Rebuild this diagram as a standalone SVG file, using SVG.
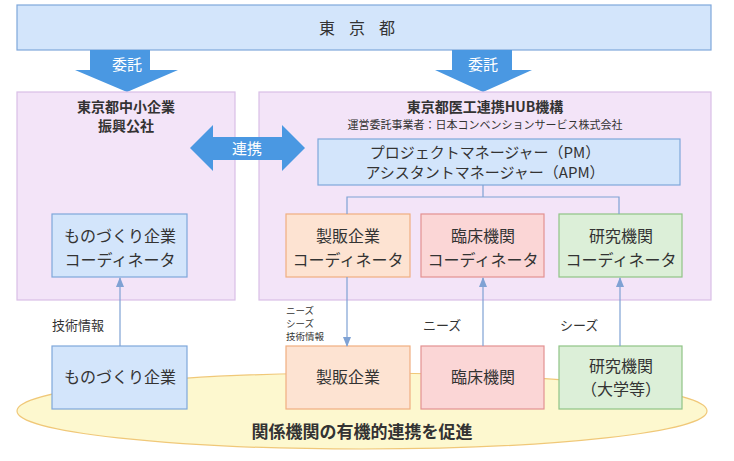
<svg xmlns="http://www.w3.org/2000/svg" width="734" height="461" viewBox="0 0 734 461">
<style>
text{font-family:"Noto Sans CJK JP","Noto Sans",sans-serif;fill:#333;text-anchor:middle}
text.st{text-anchor:start}
.b{fill:#d3e5fb;stroke:#7fa7db;stroke-width:1.2}
.p{fill:#f3e4f8;stroke:#d9bfe6;stroke-width:1.2}
.o{fill:#fde3d2;stroke:#f0ae80;stroke-width:1.2}
.r{fill:#fbd6d6;stroke:#e39191;stroke-width:1.2}
.g{fill:#dcefd8;stroke:#8fc486;stroke-width:1.2}
.l{stroke:#7fa2d4;stroke-width:1.2;fill:none}
.m{font-size:16px}
.w{fill:#fff;font-size:15px}
.big{fill:#4a98e2}
</style>
<defs><marker id="ah" markerWidth="10" markerHeight="8" refX="9" refY="4" orient="auto" markerUnits="userSpaceOnUse"><path d="M0,0L10,4L0,8z" fill="#7fa2d4"/></marker></defs>
<g id="ellipse"><ellipse cx="362" cy="411" rx="345" ry="38" fill="#fdf8cf" stroke="#f0c878" stroke-width="1.2"/><text x="362" y="438" font-size="17" font-weight="bold">関係機関の有機的連携を促進</text></g>
<g id="tokyo"><rect class="b" x="17" y="5" width="694" height="45"/><text x="364" y="34" class="m" letter-spacing="14">東京都</text></g>
<g id="itaku1"><path class="big" d="M90,50H150V70H178L127,92L75,70H90Z"/><text class="w" x="127" y="70">委託</text></g>
<g id="itaku2"><path class="big" d="M452,50H512V70H532L483,92L435,70H452Z"/><text class="w" x="483" y="70">委託</text></g>
<g id="kosha"><rect class="p" x="17" y="92" width="218" height="208"/><text x="126" y="112" font-size="14" font-weight="bold">東京都中小企業</text><text x="126" y="131" font-size="14" font-weight="bold">振興公社</text></g>
<g id="hub"><rect class="p" x="259" y="92" width="452" height="208"/><text x="485" y="112" font-size="14" font-weight="bold">東京都医工連携HUB機構</text><text x="485" y="129" font-size="11">運営委託事業者：日本コンベンションサービス株式会社</text></g>
<g id="renkei"><path class="big" d="M190,148L213,125V137H282V125L305,148L282,171V160H213V171Z"/><text class="w" x="247" y="154">連携</text></g>
<g id="pm"><rect class="b" x="318" y="139" width="362" height="46"/><text x="485" y="158" font-size="15">プロジェクトマネージャー（PM）</text><text x="485" y="178" font-size="15">アシスタントマネージャー（APM）</text></g>
<g id="c1"><rect class="b" x="52" y="214" width="135" height="63"/><text x="120" y="242" class="m">ものづくり企業</text><text x="120" y="266" class="m">コーディネータ</text></g>
<g id="c2"><rect class="o" x="286" y="214" width="124" height="63"/><text x="348" y="242" class="m">製販企業</text><text x="348" y="266" class="m">コーディネータ</text></g>
<g id="c3"><rect class="r" x="421" y="214" width="123" height="63"/><text x="483" y="242" class="m">臨床機関</text><text x="483" y="266" class="m">コーディネータ</text></g>
<g id="c4"><rect class="g" x="559" y="214" width="123" height="63"/><text x="621" y="242" class="m">研究機関</text><text x="621" y="266" class="m">コーディネータ</text></g>
<g id="n1"><rect class="b" x="52" y="346" width="135" height="63"/><text x="120" y="383" class="m">ものづくり企業</text></g>
<g id="n2"><rect class="o" x="286" y="346" width="124" height="63"/><text x="348" y="383" class="m">製販企業</text></g>
<g id="n3"><rect class="r" x="421" y="346" width="123" height="63"/><text x="483" y="383" class="m">臨床機関</text></g>
<g id="n4"><rect class="g" x="559" y="346" width="123" height="63"/><text x="621" y="372" class="m">研究機関</text><text x="621" y="395" class="m">（大学等）</text></g>
<g id="connectors">
<path class="l" d="M483,185V197M347,214V197H619V214"/>
<path class="l" d="M120,346V278" marker-end="url(#ah)"/>
<path class="l" d="M347,277V346" marker-end="url(#ah)"/>
<path class="l" d="M483,346V278" marker-end="url(#ah)"/>
<path class="l" d="M620,346V278" marker-end="url(#ah)"/>
<text class="st" x="52" y="330" font-size="13">技術情報</text>
<text class="st" x="286" y="314" font-size="9.5">ニーズ</text>
<text class="st" x="286" y="327" font-size="9.5">シーズ</text>
<text class="st" x="286" y="340" font-size="9.5">技術情報</text>
<text class="st" x="423" y="330" font-size="13">ニーズ</text>
<text class="st" x="560" y="330" font-size="13">シーズ</text>
</g>
</svg>
